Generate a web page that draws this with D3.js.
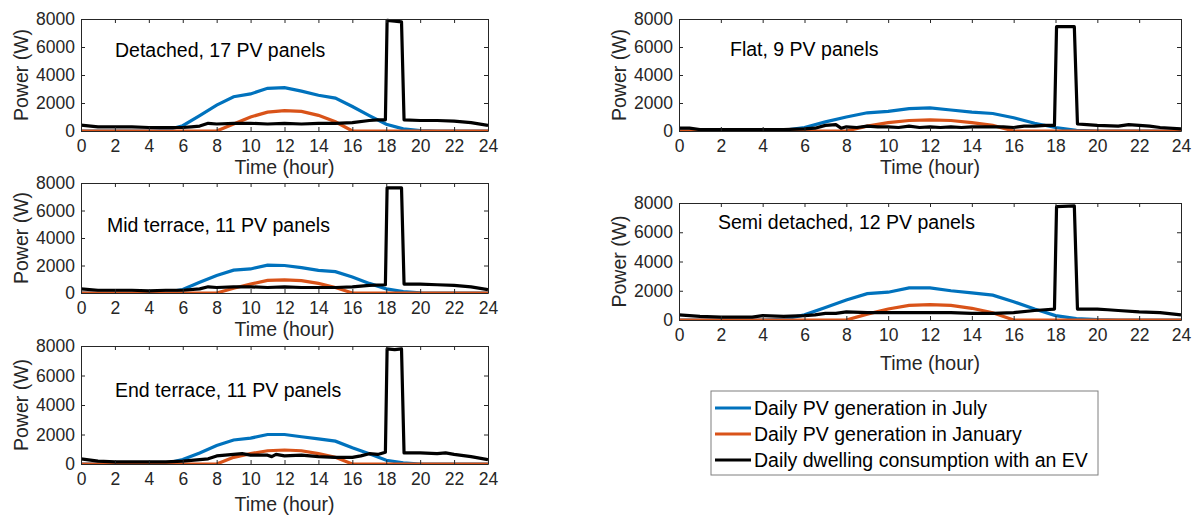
<!DOCTYPE html>
<html>
<head>
<meta charset="utf-8">
<script src="https://cdn.jsdelivr.net/npm/d3@7"></script>
<style>
  body { margin: 0; background: #fff; }
  svg { font-family: "Liberation Sans", Arial, sans-serif; }
  .axis text { font-size: 17.5px; fill: #262626; }
  .axis path, .axis line { stroke: #262626; }
  .lbl { font-size: 19.5px; fill: #262626; }
  .note { font-size: 19.5px; fill: #000; }
  .leg { font-size: 19.5px; fill: #000; }
</style>
</head>
<body>
<svg width="1201" height="518"></svg>
<script>
// ---- data ----
var hours = [0,1,2,3,4,5,6,7,8,9,10,11,12,13,14,15,16,17,18,19,20,21,22,23,24];
var xTicks = [0,2,4,6,8,10,12,14,16,18,20,22,24];
var yTicks = [0,2000,4000,6000,8000];
var seriesNames = ["Daily PV generation in July", "Daily PV generation in January", "Daily dwelling consumption with an EV"];

// Detached
var detachedJuly = [0,0,0,0,0,50,380,1100,1850,2450,2650,3050,3100,2850,2550,2350,1750,1100,480,150,30,0,0,0,0];
var detachedJan  = [0,0,0,0,0,0,0,0,0,500,1000,1350,1450,1400,1120,660,0,0,0,0,0,0,0,0,0];
var detachedEvT  = [0,1,2,3,4,5,6,6.5,7,7.5,8,9,10,11,12,13,14,15,16,17,17.5,17.95,18.05,18.5,18.9,19.05,20,21,22,23,24];
var detachedEv   = [420,300,300,300,250,250,250,300,350,550,500,550,550,500,550,500,550,550,600,750,800,800,7900,7850,7800,800,750,750,700,600,400];

// Mid terrace
var midJuly = [0,0,0,0,0,40,250,780,1280,1660,1750,2030,2000,1850,1650,1550,1170,700,300,100,20,0,0,0,0];
var midJan  = [0,0,0,0,0,0,0,0,0,350,650,920,950,900,700,400,0,0,0,0,0,0,0,0,0];
var midEvT  = [0,1,2,3,4,5,6,7,7.5,8,9,10,11,12,13,14,15,16,17,17.95,18.05,18.9,19.05,20,21,22,23,24];
var midEv   = [300,200,200,200,150,200,200,300,450,400,450,450,400,450,400,400,400,450,550,600,7650,7650,650,650,600,550,450,250];

// End terrace
var endJuly = [0,0,0,0,0,40,300,750,1250,1630,1750,2000,2000,1850,1700,1550,1100,700,250,80,0,0,0,0,0];
var endJan  = [0,0,0,0,0,0,0,0,0,450,700,900,950,900,700,450,0,0,0,0,0,0,0,0,0];
var endEvT  = [0,1,2,3,4,5,6,7,7.5,8,9,9.5,10,11,11.25,11.5,12,13,14,15,16,16.5,17,17.5,17.95,18.05,18.5,18.9,19.05,20,21,21.5,22,23,24];
var endEv   = [350,200,150,150,150,150,200,300,350,550,650,700,600,600,500,650,550,600,500,450,450,550,700,650,800,7800,7750,7800,750,750,700,750,650,500,300];

// Flat
var flatJuly = [0,0,0,0,0,50,250,650,1000,1300,1400,1600,1650,1500,1350,1250,950,550,250,50,0,0,0,0,0];
var flatJan  = [0,0,0,0,0,0,0,0,0,350,600,750,800,750,600,400,0,0,0,0,0,0,0,0,0];
var flatEvT  = [0,0.5,1,2,3,4,5,6,6.5,7,7.5,7.75,8,8.5,9,9.5,10,10.5,11,11.5,12,12.5,13,13.5,14,14.5,15,15.5,16,16.5,17,17.5,17.95,18.05,18.9,19.05,19.5,20,21,21.5,22,22.5,23,24];
var flatEv   = [200,200,100,100,100,100,100,150,200,400,450,200,300,250,350,300,300,250,350,250,300,250,300,250,300,300,300,300,250,350,350,400,400,7450,7450,500,450,400,350,450,400,350,250,150];

// Semi detached
var semiJuly = [0,0,0,0,0,50,350,850,1370,1800,1900,2200,2200,2000,1850,1700,1250,750,300,100,20,0,0,0,0];
var semiJan  = [0,0,0,0,0,0,0,0,0,400,750,1000,1050,1000,800,500,0,0,0,0,0,0,0,0,0];
var semiEvT  = [0,1,2,3,3.5,4,5,6,6.5,7,7.5,8,9,10,11,12,13,14,15,16,17,17.5,17.95,18.05,18.9,19.05,20,20.5,21,22,23,24];
var semiEv   = [350,250,200,200,200,300,250,300,350,450,450,550,500,500,500,500,500,450,450,500,650,700,750,7750,7800,750,750,700,650,550,500,350];

var colors = ["#0072BD", "#D95319", "#000000"];

var panels = [
  {name: "Detached, 17 PV panels",     july: detachedJuly, jan: detachedJan, evT: detachedEvT, ev: detachedEv, x0: 81,  x1: 488,  y0: 19,  y1: 131, tx: 115, ty: 57,  ly: 43},
  {name: "Mid terrace, 11 PV panels",  july: midJuly,      jan: midJan,      evT: midEvT,      ev: midEv,      x0: 81,  x1: 488,  y0: 183, y1: 293, tx: 107, ty: 232, ly: 43},
  {name: "End terrace, 11 PV panels",  july: endJuly,      jan: endJan,      evT: endEvT,      ev: endEv,      x0: 81,  x1: 488,  y0: 346, y1: 464, tx: 115, ty: 397, ly: 47},
  {name: "Flat, 9 PV panels",          july: flatJuly,     jan: flatJan,     evT: flatEvT,     ev: flatEv,     x0: 679, x1: 1181, y0: 19,  y1: 131, tx: 730, ty: 56,  ly: 43},
  {name: "Semi detached, 12 PV panels",july: semiJuly,     jan: semiJan,     evT: semiEvT,     ev: semiEv,     x0: 679, x1: 1181, y0: 203, y1: 320, tx: 718, ty: 229, ly: 50}
];

var svg = d3.select("svg");

panels.forEach(function(p) {
  var x = d3.scaleLinear().domain([0, 24]).range([p.x0, p.x1]),
      y = d3.scaleLinear().domain([0, 8000]).range([p.y1, p.y0]);
  var g = svg.append("g");

  var clipId = "clip" + p.y0 + "_" + p.x0;
  g.append("clipPath").attr("id", clipId).append("rect")
    .attr("x", p.x0).attr("y", p.y0 - 4).attr("width", p.x1 - p.x0).attr("height", p.y1 - p.y0 + 4);

  var line = d3.line().x(function(d) { return x(d[0]); }).y(function(d) { return y(d[1]); });
  var lines = g.append("g").attr("clip-path", "url(#" + clipId + ")");
  lines.append("path").datum(d3.zip(hours, p.july))
    .attr("d", line).attr("fill", "none").attr("stroke", colors[0]).attr("stroke-width", 3.2);
  lines.append("path").datum(d3.zip(hours, p.jan))
    .attr("d", line).attr("fill", "none").attr("stroke", colors[1]).attr("stroke-width", 3.2);
  lines.append("path").datum(d3.zip(p.evT, p.ev))
    .attr("d", line).attr("fill", "none").attr("stroke", colors[2]).attr("stroke-width", 3.2)
    .attr("stroke-linejoin", "round");

  // axes, matlab style box with inward ticks
  g.append("g").attr("class", "axis")
    .attr("transform", "translate(0," + p.y1 + ")")
    .call(d3.axisBottom(x).tickValues(xTicks).tickSizeInner(-4).tickSizeOuter(0).tickPadding(9));
  g.append("g").attr("class", "axis")
    .attr("transform", "translate(" + p.x0 + ",0)")
    .call(d3.axisLeft(y).tickValues(yTicks).tickFormat(d3.format("d")).tickSizeInner(-4).tickSizeOuter(0).tickPadding(6));
  g.append("g").attr("class", "axis")
    .attr("transform", "translate(0," + p.y0 + ")")
    .call(d3.axisTop(x).tickValues(xTicks).tickSizeInner(-4).tickSizeOuter(0).tickFormat(""));
  g.append("g").attr("class", "axis")
    .attr("transform", "translate(" + p.x1 + ",0)")
    .call(d3.axisRight(y).tickValues(yTicks).tickSizeInner(-4).tickSizeOuter(0).tickFormat(""));
  g.selectAll(".axis .domain").attr("stroke-width", 1);

  g.append("text").attr("class", "lbl")
    .attr("x", (p.x0 + p.x1) / 2).attr("y", p.y1 + p.ly)
    .attr("text-anchor", "middle").text("Time (hour)");
  g.append("text").attr("class", "lbl")
    .attr("transform", "translate(" + (p.x0 - 53) + "," + ((p.y0 + p.y1) / 2) + ") rotate(-90)")
    .attr("text-anchor", "middle").text("Power (W)");
  g.append("text").attr("class", "note")
    .attr("x", p.tx).attr("y", p.ty).text(p.name);
});

// legend
var leg = svg.append("g").attr("transform", "translate(711,391)");
leg.append("rect").attr("width", 387).attr("height", 84)
  .attr("fill", "#fff").attr("stroke", "#7f7f7f").attr("stroke-width", 1);
seriesNames.forEach(function(n, i) {
  var yy = 17 + i * 26;
  leg.append("line").attr("x1", 4).attr("x2", 40).attr("y1", yy).attr("y2", yy)
    .attr("stroke", colors[i]).attr("stroke-width", 3.2);
  leg.append("text").attr("class", "leg").attr("x", 43).attr("y", yy + 7).text(n);
});
</script>
</body>
</html>
